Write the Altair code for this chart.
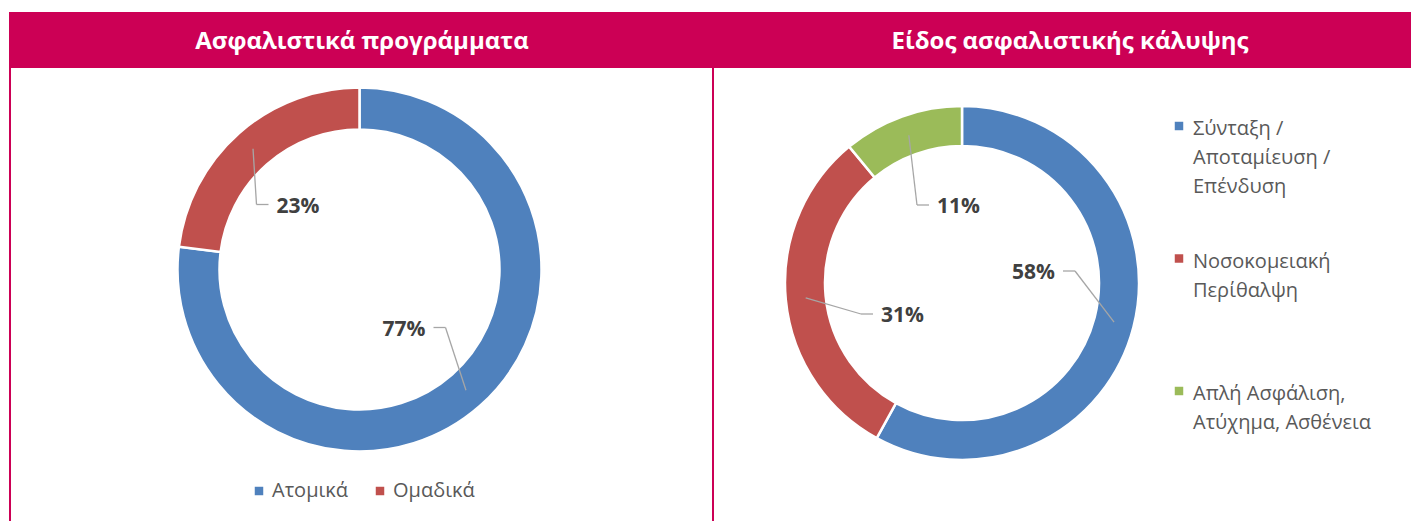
import altair as alt
import pandas as pd

# ---------------- data ----------------
TITLES = ["Ασφαλιστικά προγράμματα", "Είδος ασφαλιστικής κάλυψης"]

CATS_1 = ["Ατομικά", "Ομαδικά"]
VALS_1 = [77, 23]

CATS_2 = ["Σύνταξη /\nΑποταμίευση /\nΕπένδυση",
          "Νοσοκομειακή\nΠερίθαλψη",
          "Απλή Ασφάλιση,\nΑτύχημα, Ασθένεια"]
VALS_2 = [58, 31, 11]

# ---------------- styles / layout ----------------
COLORS_1 = ["#4F81BD", "#C0504D"]
COLORS_2 = ["#4F81BD", "#C0504D", "#9BBB59"]
ACCENT = "#CC0055"
LABEL_COLOR = "#404040"
LEGEND_COLOR = "#595959"
LEADER_COLOR = "#A6A6A6"
FONT = "Open Sans"

W, H = 1403, 513
# label elbow offsets (relative to donut centre) and side of text (+1 right, -1 left)
ELBOW_1 = [(86, 58), (-103, -65)]
SIDE_1 = [-1, 1]
ELBOW_2 = [(113, -12), (-101, 31), (-45, -78)]
SIDE_2 = [-1, 1, 1]


def donut(cats, vals, colors, elbows, sides, cx, cy, r_out, r_in):
    df = pd.DataFrame({
        "cat": cats, "val": vals, "col": colors, "idx": list(range(len(cats))),
        "ex": [e[0] for e in elbows], "ey": [e[1] for e in elbows], "side": sides,
    })
    rm = (r_out + r_in) / 2
    base = alt.Chart(df).transform_joinaggregate(
        total="sum(val)"
    ).transform_window(
        cum="sum(val)", sort=[alt.SortField("idx")], frame=[None, 0]
    ).transform_calculate(
        a0="(datum.cum - datum.val) / datum.total * 2 * PI",
        a1="datum.cum / datum.total * 2 * PI",
    ).transform_calculate(
        am="(datum.a0 + datum.a1) / 2",
    ).transform_calculate(
        rx=f"{cx} + {rm} * sin(datum.am)",
        ry=f"{cy} - {rm} * cos(datum.am)",
        elx=f"{cx} + datum.ex",
        ely=f"{cy} + datum.ey",
        hx=f"{cx} + datum.ex + 12 * datum.side",
        tx=f"{cx} + datum.ex + 20 * datum.side",
        ty=f"{cy} + datum.ey + 2",
        lab="format(datum.val, 'd') + '%'",
    )
    arc = base.mark_arc(stroke="white", strokeWidth=2.5).encode(
        theta=alt.Theta("a0:Q", scale=None),
        theta2=alt.Theta2("a1:Q"),
        radius=alt.value(r_out),
        radius2=alt.value(r_in),
        x=alt.value(cx),
        y=alt.value(cy),
        color=alt.Color("col:N", scale=None),
    )
    lead1 = base.mark_rule(color=LEADER_COLOR, strokeWidth=1.3).encode(
        x=alt.X("rx:Q", scale=None), y=alt.Y("ry:Q", scale=None),
        x2="elx:Q", y2="ely:Q",
    )
    lead2 = base.mark_rule(color=LEADER_COLOR, strokeWidth=1.3).encode(
        x=alt.X("elx:Q", scale=None), y=alt.Y("ely:Q", scale=None),
        x2="hx:Q", y2="ely:Q",
    )
    txt_r = base.transform_filter("datum.side > 0").mark_text(
        align="left", baseline="middle", font=FONT, fontSize=21,
        fontWeight="bold", color=LABEL_COLOR,
    ).encode(x=alt.X("tx:Q", scale=None), y=alt.Y("ty:Q", scale=None), text="lab:N")
    txt_l = base.transform_filter("datum.side < 0").mark_text(
        align="right", baseline="middle", font=FONT, fontSize=21,
        fontWeight="bold", color=LABEL_COLOR,
    ).encode(x=alt.X("tx:Q", scale=None), y=alt.Y("ty:Q", scale=None), text="lab:N")
    return [arc, lead1, lead2, txt_r, txt_l]


one = alt.Data(values=[{}])

header = alt.Chart(one).mark_rect(color=ACCENT).encode(
    x=alt.value(1), x2=alt.value(W), y=alt.value(4), y2=alt.value(60)
)
dividers = alt.Chart(pd.DataFrame({"dx": [2, 705]})).mark_rule(
    color=ACCENT, strokeWidth=2
).encode(x=alt.X("dx:Q", scale=None), y=alt.value(60), y2=alt.value(H))

titles = alt.Chart(pd.DataFrame({"t": TITLES, "tx": [354, 1062]})).mark_text(
    font=FONT, fontSize=24, fontWeight="bold", color="white",
    baseline="alphabetic", align="center",
).encode(x=alt.X("tx:Q", scale=None), y=alt.value(41), text="t:N")

# legend 1 (horizontal)
leg1 = pd.DataFrame({"cat": CATS_1, "col": COLORS_1, "lx": [251, 372]})
leg1_sq = alt.Chart(leg1).mark_square(size=72, opacity=1).encode(
    x=alt.X("lx:Q", scale=None), y=alt.value(483),
    color=alt.Color("col:N", scale=None),
)
leg1_tx = alt.Chart(leg1).transform_calculate(tx="datum.lx + 13").mark_text(
    align="left", baseline="alphabetic", font=FONT, fontSize=20, color=LEGEND_COLOR,
).encode(x=alt.X("tx:Q", scale=None), y=alt.value(489), text="cat:N")

# legend 2 (vertical)
leg2 = pd.DataFrame({"cat": CATS_2, "col": COLORS_2, "i": [0, 1, 2]})
leg2_sq = alt.Chart(leg2).transform_calculate(
    ly="118 + datum.i * 132.5"
).mark_square(size=72, opacity=1).encode(
    x=alt.value(1171), y=alt.Y("ly:Q", scale=None),
    color=alt.Color("col:N", scale=None),
)
leg2_tx = alt.Chart(leg2).transform_calculate(
    ly="127 + datum.i * 132.5"
).mark_text(
    align="left", baseline="alphabetic", font=FONT, fontSize=20,
    color=LEGEND_COLOR, lineBreak="\n", lineHeight=29,
).encode(x=alt.value(1185), y=alt.Y("ly:Q", scale=None), text="cat:N")

layers = [header, dividers, titles]
layers += donut(CATS_1, VALS_1, COLORS_1, ELBOW_1, SIDE_1, 351.5, 261.5, 182, 140)
layers += donut(CATS_2, VALS_2, COLORS_2, ELBOW_2, SIDE_2, 954, 275, 177, 137)
layers += [leg1_sq, leg1_tx, leg2_sq, leg2_tx]

chart = alt.layer(*layers).properties(
    width=W, height=H, padding=0,
    autosize=alt.AutoSizeParams(type="none"),
).configure_view(strokeWidth=0)

chart.save("out.html", embed_options={"renderer": "svg", "actions": False})
